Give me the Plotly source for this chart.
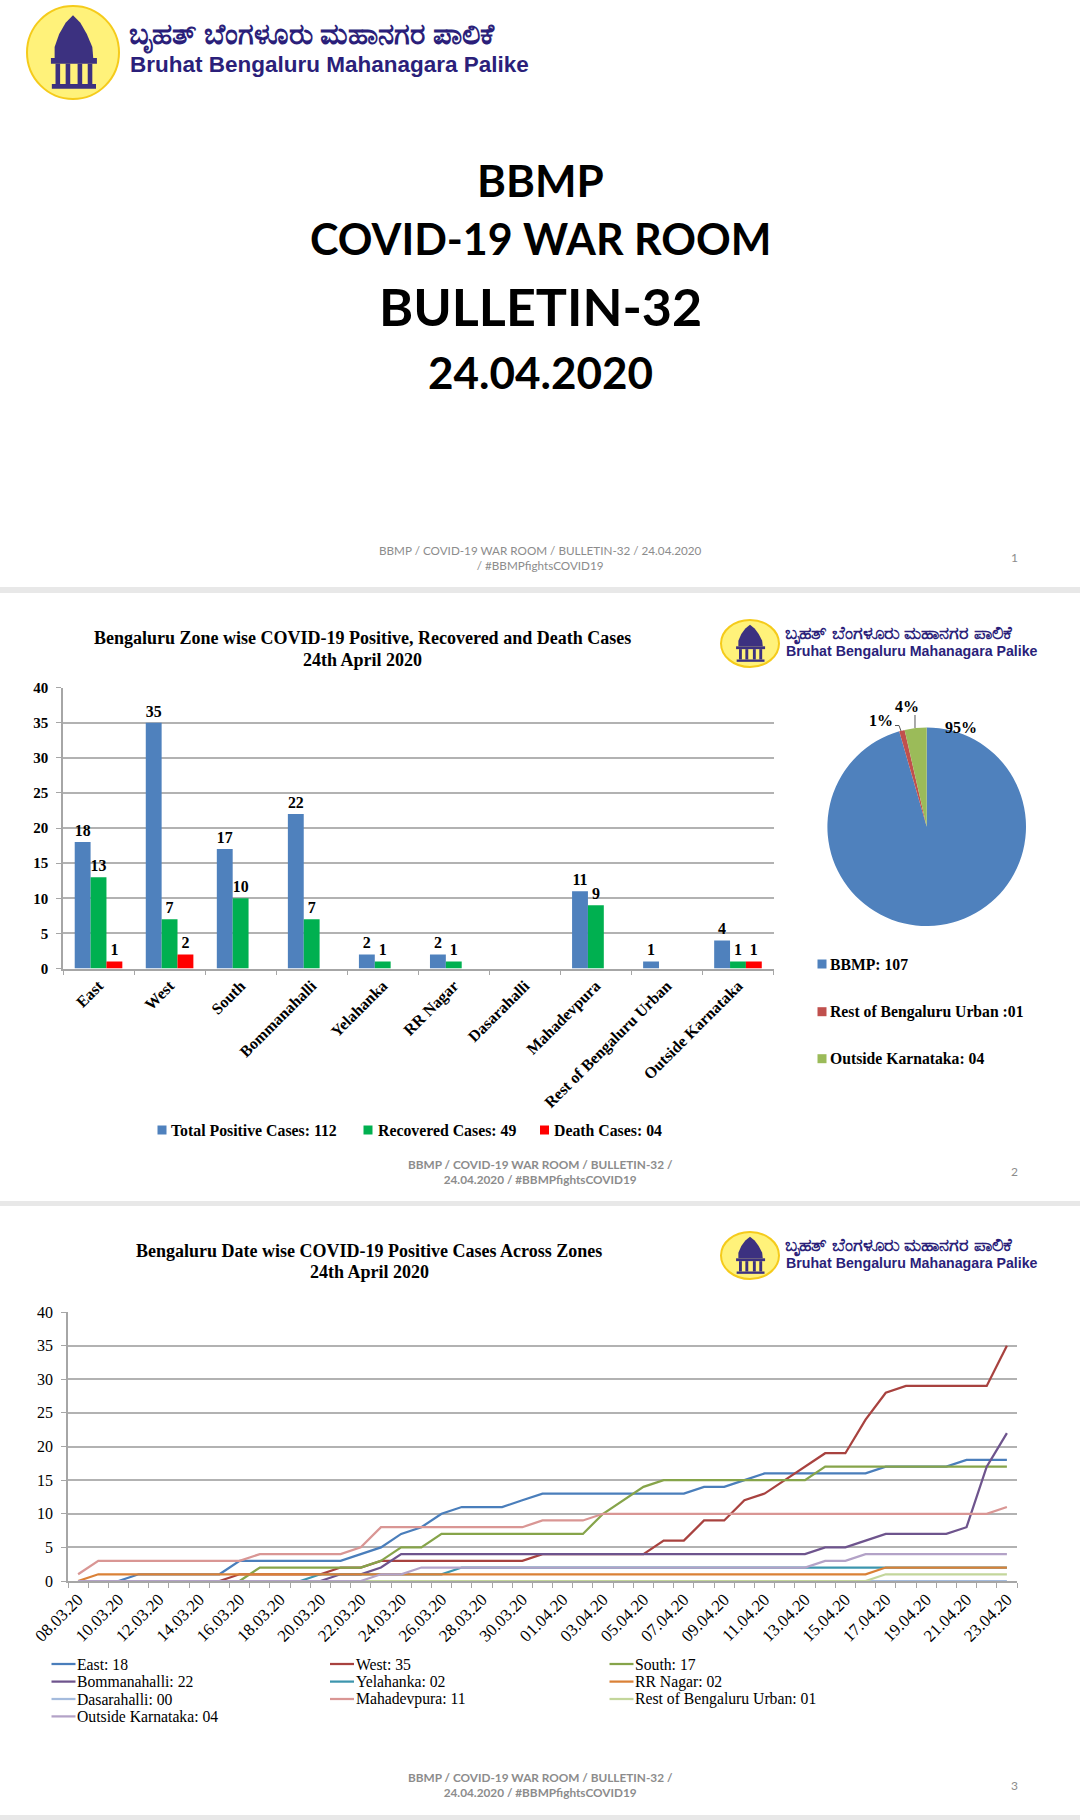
import plotly.graph_objects as go

W, H = 1080, 1820
SERIF = "Liberation Serif"
SANS = "Lato"

# ---------- data: zone chart ----------
zones = ["East", "West", "South", "Bommanahalli", "Yelahanka", "RR Nagar", "Dasarahalli",
         "Mahadevpura", "Rest of Bengaluru Urban", "Outside Karnataka"]
positive = [18, 35, 17, 22, 2, 2, 0, 11, 1, 4]
recovered = [13, 7, 10, 7, 1, 1, 0, 9, 0, 1]
deaths = [1, 2, 0, 0, 0, 0, 0, 0, 0, 1]
bar_legend = ["Total Positive Cases: 112", "Recovered Cases: 49", "Death Cases: 04"]

# ---------- data: pie ----------
pie_names = ["BBMP: 107", "Rest of Bengaluru Urban :01", "Outside Karnataka: 04"]
pie_values = [107, 1, 4]
pie_text = ["95%", "1%", "4%"]

# ---------- data: date-wise lines ----------
dates = ["08.03.20", "09.03.20", "10.03.20", "11.03.20", "12.03.20", "13.03.20", "14.03.20", "15.03.20",
         "16.03.20", "17.03.20", "18.03.20", "19.03.20", "20.03.20", "21.03.20", "22.03.20", "23.03.20",
         "24.03.20", "25.03.20", "26.03.20", "27.03.20", "28.03.20", "29.03.20", "30.03.20", "31.03.20",
         "01.04.20", "02.04.20", "03.04.20", "04.04.20", "05.04.20", "06.04.20", "07.04.20", "08.04.20",
         "09.04.20", "10.04.20", "11.04.20", "12.04.20", "13.04.20", "14.04.20", "15.04.20", "16.04.20",
         "17.04.20", "18.04.20", "19.04.20", "20.04.20", "21.04.20", "22.04.20", "23.04.20"]
east = [0,0,0,1,1,1,1,1,3,3,3,3,3,3,4,5,7,8,10,11,11,11,12,13,13,13,13,13,13,13,13,14,14,15,16,16,16,16,16,16,17,17,17,17,18,18,18]
west = [0,0,0,0,0,0,0,0,1,1,1,1,1,2,2,3,3,3,3,3,3,3,3,4,4,4,4,4,4,6,6,9,9,12,13,15,17,19,19,24,28,29,29,29,29,29,35]
south = [0,0,0,0,0,0,0,0,0,2,2,2,2,2,2,3,5,5,7,7,7,7,7,7,7,7,10,12,14,15,15,15,15,15,15,15,15,17,17,17,17,17,17,17,17,17,17]
bomm = [0,0,0,0,0,0,0,0,0,0,0,0,0,1,1,2,4,4,4,4,4,4,4,4,4,4,4,4,4,4,4,4,4,4,4,4,4,5,5,6,7,7,7,7,8,17,22]
yelahanka = [0,0,0,0,0,0,0,0,0,0,0,0,1,1,1,1,1,1,1,2,2,2,2,2,2,2,2,2,2,2,2,2,2,2,2,2,2,2,2,2,2,2,2,2,2,2,2]
rrnagar = [0,1,1,1,1,1,1,1,1,1,1,1,1,1,1,1,1,1,1,1,1,1,1,1,1,1,1,1,1,1,1,1,1,1,1,1,1,1,1,1,2,2,2,2,2,2,2]
dasarahalli = [0,0,0,0,0,0,0,0,0,0,0,0,0,0,0,0,0,0,0,0,0,0,0,0,0,0,0,0,0,0,0,0,0,0,0,0,0,0,0,0,0,0,0,0,0,0,0]
mahadevpura = [1,3,3,3,3,3,3,3,3,4,4,4,4,4,5,8,8,8,8,8,8,8,8,9,9,9,10,10,10,10,10,10,10,10,10,10,10,10,10,10,10,10,10,10,10,10,11]
rest_urban = [0,0,0,0,0,0,0,0,0,0,0,0,0,0,0,0,0,0,0,0,0,0,0,0,0,0,0,0,0,0,0,0,0,0,0,0,0,0,0,0,1,1,1,1,1,1,1]
outside = [0,0,0,0,0,0,0,0,0,0,0,0,0,0,0,1,1,2,2,2,2,2,2,2,2,2,2,2,2,2,2,2,2,2,2,2,2,3,3,4,4,4,4,4,4,4,4]
line_names = ["East: 18", "West: 35", "South: 17", "Bommanahalli: 22", "Yelahanka: 02", "RR Nagar: 02",
              "Dasarahalli: 00", "Mahadevpura: 11", "Rest of Bengaluru Urban: 01", "Outside Karnataka: 04"]
line_series = [east, west, south, bomm, yelahanka, rrnagar, dasarahalli, mahadevpura, rest_urban, outside]
line_colors = ["#4A7EBB", "#A8423F", "#86A44A", "#6E548D", "#3D96AE", "#DA8137",
               "#A4BBDD", "#D99694", "#C3D69B", "#B3A2C7"]

# ---------- helpers ----------
def X(px):
    return px / W

def Y(py):
    return 1 - py / H

shapes, annos = [], []

def text(x, y, s, size, family=SERIF, bold=False, color="#000000", anchor="center"):
    annos.append(dict(x=X(x), y=Y(y), xref="paper", yref="paper", text=s, showarrow=False,
                      xanchor=anchor, yanchor="middle", align="center", borderpad=0,
                      font=dict(family=family, size=size, color=color, weight=700 if bold else 400)))

def rect(x0, y0, x1, y1, fill):
    shapes.append(dict(type="rect", xref="paper", yref="paper", x0=X(x0), x1=X(x1), y0=Y(y0), y1=Y(y1),
                       fillcolor=fill, line=dict(width=0), layer="below"))

def leader(points):
    path = "M" + "L".join(f"{X(a):.5f},{Y(b):.5f}" for a, b in points)
    shapes.append(dict(type="path", xref="paper", yref="paper", path=path, line=dict(color="#555555", width=1)))

def logo(x0, y0, x1, y1):
    w, h = x1 - x0, y1 - y0
    def P(u, v):
        return f"{X(x0 + u * w):.5f},{Y(y0 + v * h):.5f}"
    purple = "#3C3180"
    shapes.append(dict(type="circle", xref="paper", yref="paper", x0=X(x0), x1=X(x1), y0=Y(y0), y1=Y(y1),
                       fillcolor="#FFF27A", line=dict(color="#F5CB1B", width=2)))
    dome = "M" + "L".join(P(u, v) for u, v in [(.50, .10), (.42, .18), (.35, .30), (.30, .44), (.30, .56),
                                               (.72, .56), (.71, .44), (.65, .30), (.58, .18)]) + "Z"
    shapes.append(dict(type="path", xref="paper", yref="paper", path=dome, fillcolor=purple, line=dict(width=0)))
    for u0, u1, v0, v1 in [(.26, .76, .56, .62), (.31, .36, .62, .84), (.42, .47, .62, .84),
                           (.55, .60, .62, .84), (.66, .71, .62, .84), (.27, .75, .84, .89)]:
        shapes.append(dict(type="rect", xref="paper", yref="paper", x0=X(x0 + u0 * w), x1=X(x0 + u1 * w),
                           y0=Y(y0 + v0 * h), y1=Y(y0 + v1 * h), fillcolor=purple, line=dict(width=0)))

def key(x, y, color):
    shapes.append(dict(type="rect", xref="paper", yref="paper", x0=X(x - 4.5), x1=X(x + 4.5),
                       y0=Y(y - 4.5), y1=Y(y + 4.5), fillcolor=color, line=dict(width=0)))

GRID = "#B2B2B2"
AXIS = "#A6A6A6"
fig = go.Figure()

# ---------- bars ----------
for name, vals, col in [("Total Positive Cases", positive, "#4F81BD"),
                        ("Recovered Cases", recovered, "#00B050"),
                        ("Death Cases", deaths, "#FF0000")]:
    fig.add_trace(go.Bar(x=zones, y=vals, name=name, marker=dict(color=col, line=dict(width=0)), showlegend=False,
                         text=[str(v) if v else "" for v in vals], textposition="outside", cliponaxis=False,
                         textangle=0, textfont=dict(family=SERIF, size=16, color="#000000", weight=700),
                         xaxis="x", yaxis="y"))

# ---------- pie ----------
fig.add_trace(go.Pie(labels=pie_names, values=pie_values, sort=False, direction="clockwise", rotation=0,
                     marker=dict(colors=["#4F81BD", "#C0504D", "#9BBB59"], line=dict(width=0)),
                     textinfo="none", showlegend=False,
                     domain=dict(x=[X(827.4), X(1026)], y=[Y(926), Y(727.4)])))

# ---------- lines ----------
for name, vals, col in zip(line_names, line_series, line_colors):
    fig.add_trace(go.Scatter(x=dates, y=vals, name=name, mode="lines", line=dict(color=col, width=2.25),
                             xaxis="x2", yaxis="y2", showlegend=False))

def yaxis(domain, bold, anchor, size):
    return dict(domain=domain, anchor=anchor, range=[0, 40], dtick=5, tickmode="linear", tick0=0,
                showgrid=True, gridcolor=GRID, gridwidth=1.5, showline=True, linecolor=AXIS, linewidth=1.5,
                ticks="outside", ticklen=5, tickcolor=AXIS, zeroline=False, ticklabelstandoff=5,
                tickfont=dict(family=SERIF, size=size, color="#000000", weight=700 if bold else 400))

fig.update_layout(
    width=W, height=H, margin=dict(l=0, r=0, t=0, b=0, autoexpand=False), autosize=False, showlegend=False,
    paper_bgcolor="#FFFFFF", plot_bgcolor="rgba(0,0,0,0)", bargap=0.33, bargroupgap=0, barmode="group",
    xaxis=dict(domain=[X(63), X(773.5)], anchor="y", type="category", tickson="boundaries", tickangle=-45,
               ticks="outside", ticklen=5, tickcolor=AXIS, showline=True, linecolor=AXIS, linewidth=1.5,
               tickfont=dict(family=SERIF, size=16, color="#000000", weight=700), showgrid=False),
    yaxis=yaxis([Y(968.5), Y(687.6)], True, "x", 15),
    xaxis2=dict(domain=[X(68), X(1017)], anchor="y2", type="category", tickson="boundaries", tickangle=-45,
                range=[-0.5, 46.5], tickmode="array", tickvals=dates,
                ticktext=[d if i % 2 == 0 else "" for i, d in enumerate(dates)],
                ticks="outside", ticklen=5, tickcolor=AXIS, showline=True, linecolor=AXIS, linewidth=1.5,
                tickfont=dict(family=SERIF, size=17, color="#000000"), showgrid=False),
    yaxis2=yaxis([Y(1581), Y(1312)], False, "x2", 16),
)

# ---------- page furniture ----------
rect(0, 587, W, 593, "#E8E8E8")
rect(0, 1201, W, 1206, "#E8E8E8")
rect(0, 1815, W, 1820, "#E8E8E8")

KANNADA = "ಬೃಹತ್ ಬೆಂಗಳೂರು ಮಹಾನಗರ ಪಾಲಿಕೆ"
ENGLISH = "Bruhat Bengaluru Mahanagara Palike"
INK = "#2B1F7A"
logo(27, 6, 119, 99)
text(128, 33, KANNADA, 29, family="Noto Sans", bold=True, color=INK, anchor="left")
text(129, 65, ENGLISH, 22.5, family="Liberation Sans", bold=True, color=INK, anchor="left")
for top in (620, 1232):
    logo(721, top, 779, top + 47)
    text(784, top + 12, KANNADA, 17.5, family="Noto Sans", bold=True, color=INK, anchor="left")
    text(785, top + 31, ENGLISH, 14.2, family="Liberation Sans", bold=True, color=INK, anchor="left")

text(540, 180, "BBMP", 44, family=SANS, bold=True)
text(540, 239, "COVID-19 WAR ROOM", 43, family=SANS, bold=True)
text(540, 306, "BULLETIN-32", 52, family=SANS, bold=True)
text(540, 372, "24.04.2020", 44, family=SANS, bold=True)

FOOT = "#8C8C8C"
text(540, 557, "BBMP / COVID-19 WAR ROOM / BULLETIN-32 / 24.04.2020<br>/ #BBMPfightsCOVID19", 11.7, family=SANS, color=FOOT)
text(1014, 557, "1", 12, family=SANS, color=FOOT)
text(540, 1172, "BBMP / COVID-19 WAR ROOM / BULLETIN-32 /<br>24.04.2020 / #BBMPfightsCOVID19", 11.8, family=SANS, bold=True, color=FOOT)
text(1014, 1171, "2", 12, family=SANS, color=FOOT)
text(540, 1785, "BBMP / COVID-19 WAR ROOM / BULLETIN-32 /<br>24.04.2020 / #BBMPfightsCOVID19", 11.8, family=SANS, bold=True, color=FOOT)
text(1014, 1785, "3", 12, family=SANS, color=FOOT)

text(362.5, 638, "Bengaluru Zone wise COVID-19 Positive, Recovered and Death Cases", 18, bold=True)
text(362.5, 660, "24th April 2020", 18, bold=True)
text(369, 1251, "Bengaluru Date wise COVID-19 Positive Cases Across Zones", 18, bold=True)
text(369, 1272, "24th April 2020", 18, bold=True)

# bar legend
for kx, tx, s, col in zip([162, 368, 544.5], [170, 376.5, 553], bar_legend, ["#4F81BD", "#00B050", "#FF0000"]):
    key(kx, 1130, col)
    text(tx, 1130, s, 15.8, bold=True, anchor="left")

# pie legend and labels
for ky, s, col in zip([964, 1011.7, 1058.7], pie_names, ["#4F81BD", "#C0504D", "#9BBB59"]):
    key(822, ky, col)
    text(829, ky, s, 15.7, bold=True, anchor="left")
text(960.7, 727, pie_text[0], 16, bold=True)
text(880.7, 720.7, pie_text[1], 16, bold=True)
text(906.7, 706.7, pie_text[2], 16, bold=True)
leader([(915, 715), (915, 728)])
leader([(895, 725.5), (899, 725.5), (901, 731)])

# line legend
legend_cols = [51.5, 330, 609.5]
legend_rows = [1664, 1681.6, 1699, 1716.4]
for i, (name, col) in enumerate(zip(line_names, line_colors)):
    lx, ly = legend_cols[i % 3], legend_rows[i // 3]
    shapes.append(dict(type="line", xref="paper", yref="paper", x0=X(lx), x1=X(lx + 24), y0=Y(ly), y1=Y(ly),
                       line=dict(color=col, width=2.25)))
    text(lx + 24.5, ly, name, 15.7, anchor="left")

fig.update_layout(shapes=shapes, annotations=annos)
fig.write_html("out.html", post_script="document.body.style.margin='0';",
               config=dict(displayModeBar=False))
